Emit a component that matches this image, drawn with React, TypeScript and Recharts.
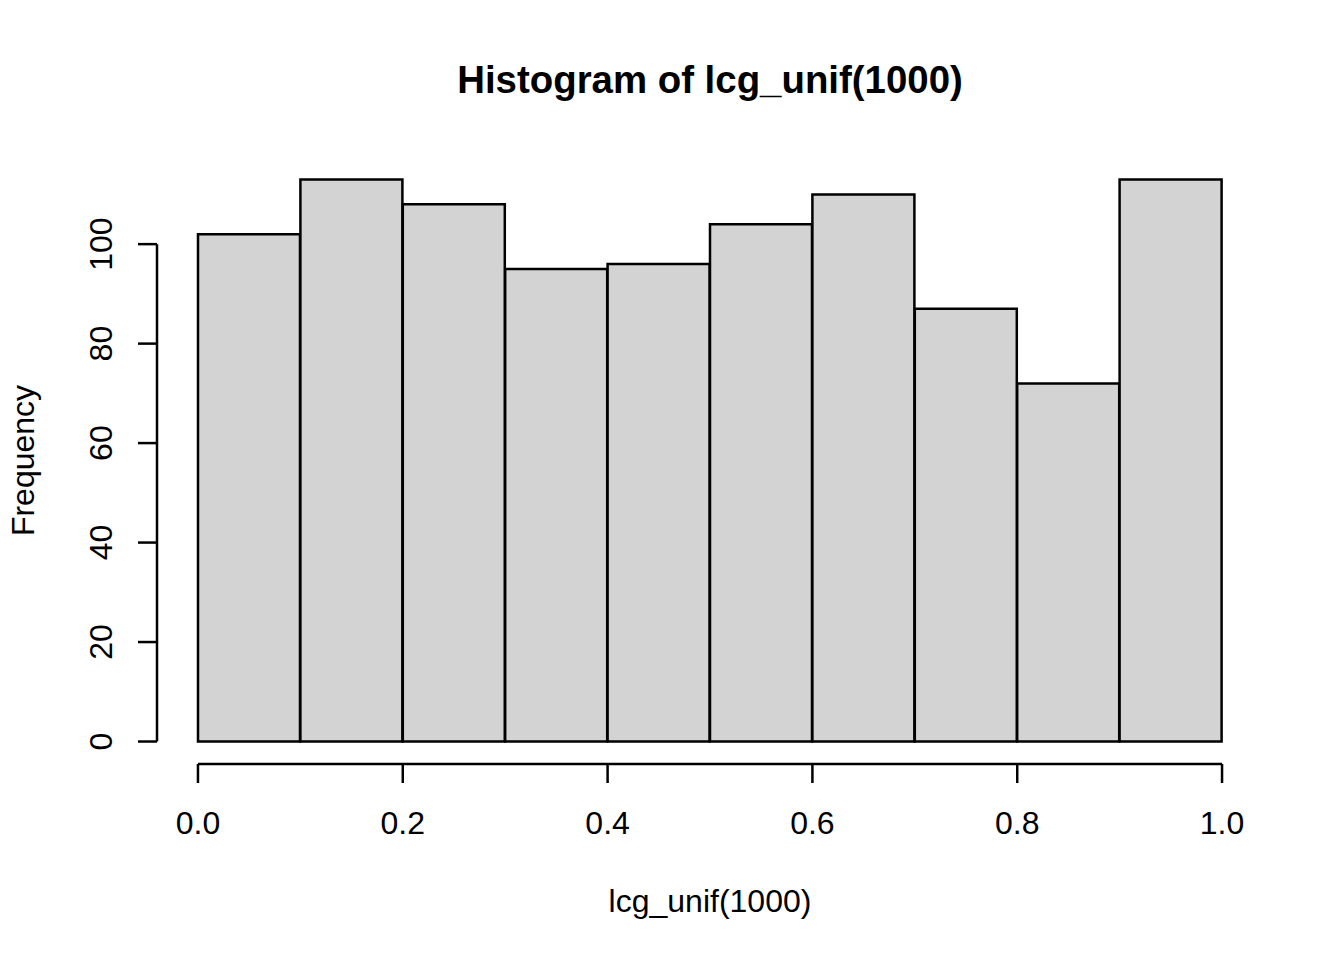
import React from "react";
import { BarChart, Bar, XAxis, YAxis, ReferenceLine } from "recharts";

// histogram of lcg_unif(1000), 10 bins of width 0.1
const binStarts = [0, 0.1, 0.2, 0.3, 0.4, 0.5, 0.6, 0.7, 0.8, 0.9];
const counts = [102, 113, 108, 95, 96, 104, 110, 87, 72, 113];
const xTicks = [0, 0.2, 0.4, 0.6, 0.8, 1.0];
const yTicks = [0, 20, 40, 60, 80, 100];

const data = binStarts.map((b, i) => ({
  bin: `${b.toFixed(1)}-${(b + 0.1).toFixed(1)}`,
  mid: b + 0.05,
  count: counts[i],
}));

const FONT = '"Liberation Sans", Arial, sans-serif';
const LW = 2.5;
const yMax = Math.max(...counts);
// R's default 4% axis extension
const xDomain = [-0.04, 1.04];
const yDomain = [-0.04 * yMax, yMax * 1.04];

const XTick = (props: any) => {
  const { x, y, payload } = props;
  return (
    <text x={x} y={y} textAnchor="middle" fontFamily={FONT} fontSize={32} fill="#000">
      {payload.value.toFixed(1)}
    </text>
  );
};

const YTick = (props: any) => {
  const { x, y, payload } = props;
  return (
    <text
      x={x}
      y={y}
      textAnchor="middle"
      transform={`rotate(-90, ${x}, ${y})`}
      fontFamily={FONT}
      fontSize={32}
      fill="#000"
    >
      {payload.value}
    </text>
  );
};

export default function App() {
  return (
    <div style={{ position: "relative", width: 1344, height: 960, background: "#fff" }}>
      <style>{"body{margin:0}"}</style>
      <svg width={1344} height={120} style={{ position: "absolute", left: 0, top: 0 }}>
        <text x={710} y={93} textAnchor="middle" fontFamily={FONT} fontSize={38.4} fontWeight="bold" fill="#000">
          Histogram of lcg_unif(1000)
        </text>
      </svg>
      <BarChart
        width={1344}
        height={960}
        data={data}
        margin={{ top: 157, right: 81, bottom: 0, left: 0 }}
        barCategoryGap={0}
        style={{ position: "absolute", left: 0, top: 0 }}
      >
        <XAxis xAxisId="bins" dataKey="bin" hide height={0} padding={{ left: 41, right: 41 }} />
        <XAxis
          xAxisId="num"
          dataKey="mid"
          type="number"
          domain={xDomain}
          allowDataOverflow
          ticks={xTicks}
          height={196}
          axisLine={false}
          tickLine={{ stroke: "#000", strokeWidth: LW }}
          tickSize={19}
          tickMargin={51}
          tick={<XTick />}
          interval={0}
          label={{
            content: (p: any) => {
              const vb = p.viewBox;
              return (
                <text x={vb.x + vb.width / 2} y={vb.y + 148} textAnchor="middle" fontFamily={FONT} fontSize={32} fill="#000">
                  lcg_unif(1000)
                </text>
              );
            },
          }}
        />
        <YAxis
          type="number"
          domain={yDomain}
          allowDataOverflow
          ticks={yTicks}
          width={157}
          axisLine={false}
          tickLine={{ stroke: "#000", strokeWidth: LW }}
          tickSize={19}
          tickMargin={26}
          tick={<YTick />}
          interval={0}
          label={{
            content: (p: any) => {
              const vb = p.viewBox;
              const x = vb.x + 34;
              const y = vb.y + vb.height / 2;
              return (
                <text x={x} y={y} textAnchor="middle" transform={`rotate(-90, ${x}, ${y})`} fontFamily={FONT} fontSize={32} fill="#000">
                  Frequency
                </text>
              );
            },
          }}
        />
        <Bar
          xAxisId="bins"
          dataKey="count"
          fill="#D3D3D3"
          stroke="#000"
          strokeWidth={LW}
          isAnimationActive={false}
        />
        {/* R draws axis lines only between the first and last tick */}
        <ReferenceLine
          xAxisId="num"
          segment={[{ x: xTicks[0], y: yDomain[0] }, { x: xTicks[xTicks.length - 1], y: yDomain[0] }]}
          stroke="#000"
          strokeWidth={LW}
          ifOverflow="visible"
        />
        <ReferenceLine
          xAxisId="num"
          segment={[{ x: xDomain[0], y: yTicks[0] }, { x: xDomain[0], y: yTicks[yTicks.length - 1] }]}
          stroke="#000"
          strokeWidth={LW}
          ifOverflow="visible"
        />
      </BarChart>
    </div>
  );
}
